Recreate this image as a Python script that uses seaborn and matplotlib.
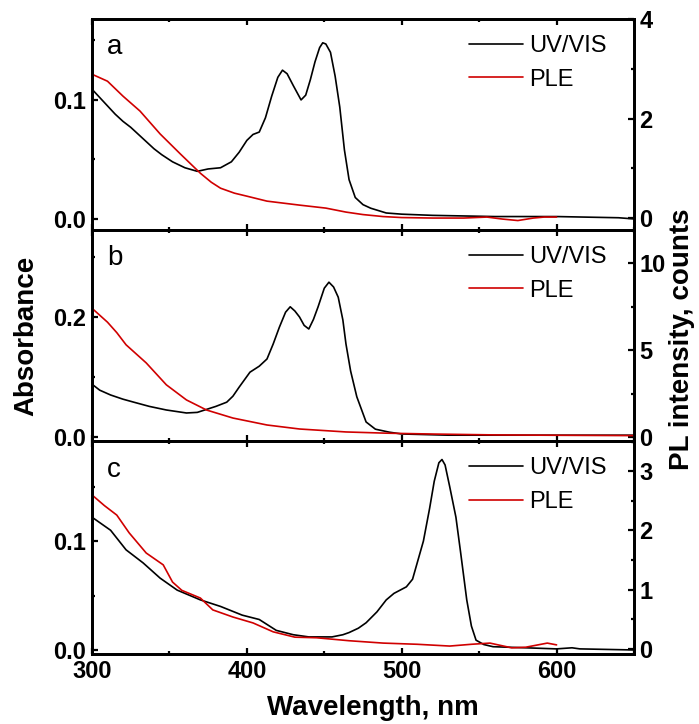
import numpy as np
import pandas as pd
import matplotlib
matplotlib.use("Agg")
import matplotlib.pyplot as plt
import seaborn as sns
from matplotlib.ticker import MultipleLocator

sns.set_theme(style="ticks")
plt.rcParams['font.family'] = ['Liberation Sans', 'DejaVu Sans']
plt.rcParams['text.color'] = 'black'

# ---------------- data ----------------
# Panel a
a_uv_wl = [300, 305, 310, 315, 320, 325, 330, 335, 340, 345, 352, 360, 368, 375, 383, 390, 395, 400,
           404, 408, 412, 416, 420, 423, 426, 430, 435, 438, 441, 444, 447, 449, 451, 454, 457, 460,
           463, 466, 470, 475, 480, 490, 500, 520, 560, 600, 640, 650]
a_uv = [0.109, 0.102, 0.095, 0.088, 0.082, 0.077, 0.071, 0.065, 0.059, 0.054, 0.048, 0.043, 0.040,
        0.042, 0.043, 0.048, 0.056, 0.066, 0.071, 0.073, 0.085, 0.103, 0.119, 0.125, 0.122, 0.112,
        0.100, 0.104, 0.117, 0.132, 0.144, 0.148, 0.147, 0.140, 0.120, 0.094, 0.058, 0.033, 0.018,
        0.012, 0.009, 0.005, 0.004, 0.003, 0.002, 0.002, 0.001, 0.000]
a_ple_wl = [300, 310, 320, 331, 344, 357, 370, 377, 383, 392, 400, 413, 434, 451, 464, 475, 488, 500,
            520, 540, 555, 565, 575, 585, 592, 600]
a_ple = [2.89, 2.75, 2.45, 2.15, 1.69, 1.29, 0.90, 0.72, 0.60, 0.50, 0.44, 0.34, 0.26, 0.20, 0.12,
         0.07, 0.03, 0.01, 0.00, 0.00, 0.02, -0.02, -0.05, 0.00, 0.02, 0.02]

# Panel b
b_uv_wl = [300, 305, 312, 320, 327, 337, 348, 361, 368, 374, 380, 387, 391, 395, 402, 408, 413, 417,
           421, 425, 428, 431, 434, 437, 440, 443, 446, 450, 453, 456, 459, 462, 464, 467, 471, 477,
           483, 492, 500, 530, 600, 650]
b_uv = [0.088, 0.078, 0.070, 0.063, 0.058, 0.051, 0.045, 0.040, 0.041, 0.046, 0.051, 0.058, 0.068,
        0.083, 0.108, 0.118, 0.130, 0.155, 0.183, 0.208, 0.217, 0.210, 0.200, 0.186, 0.180, 0.196,
        0.217, 0.248, 0.258, 0.250, 0.233, 0.195, 0.155, 0.110, 0.067, 0.025, 0.013, 0.008, 0.005,
        0.003, 0.003, 0.003]
b_ple_wl = [300, 310, 316, 322, 335, 348, 361, 374, 391, 413, 434, 464, 490, 520, 560, 600, 650]
b_ple = [7.40, 6.60, 6.00, 5.30, 4.26, 3.00, 2.13, 1.55, 1.09, 0.69, 0.46, 0.29, 0.22, 0.17, 0.12,
         0.10, 0.08]

# Panel c
c_uv_wl = [300, 306, 312, 322, 333, 344, 355, 370, 383, 397, 408, 419, 430, 440, 455, 462, 466, 472,
           477, 484, 490, 495, 499, 503, 507, 511, 514, 518, 521, 524, 526, 528, 531, 535, 538, 542,
           545, 548, 553, 559, 580, 600, 610, 615, 650]
c_uv = [0.122, 0.116, 0.110, 0.092, 0.080, 0.066, 0.055, 0.046, 0.040, 0.032, 0.028, 0.018, 0.014,
        0.012, 0.012, 0.014, 0.016, 0.020, 0.025, 0.035, 0.046, 0.052, 0.055, 0.058, 0.065, 0.085,
        0.100, 0.130, 0.155, 0.172, 0.175, 0.170, 0.150, 0.122, 0.090, 0.046, 0.022, 0.009, 0.005,
        0.003, 0.002, 0.001, 0.002, 0.001, 0.000]
c_ple_wl = [300, 308, 316, 324, 335, 346, 352, 358, 370, 378, 391, 404, 417, 431, 445, 466, 488, 510,
            531, 545, 557, 571, 580, 594, 600]
c_ple = [2.60, 2.42, 2.26, 1.96, 1.62, 1.42, 1.13, 0.99, 0.86, 0.66, 0.54, 0.44, 0.29, 0.20, 0.19,
         0.14, 0.10, 0.08, 0.05, 0.08, 0.10, 0.02, 0.03, 0.10, 0.07]

panel_letters = ["a", "b", "c"]
legend_labels = ["UV/VIS", "PLE"]
x_ticks = [300, 400, 500, 600]

# ---------------- layout ----------------
W, H = 699, 724
fig = plt.figure(figsize=(W / 100, H / 100), dpi=100)
L, R = 92, 634
rows = [(19, 230), (230, 441), (441, 654)]

panels = [
    dict(uv=(a_uv_wl, a_uv), ple=(a_ple_wl, a_ple), yl=(-0.0093, 0.168), yr=(-0.24, 4.0),
         lmaj=0.1, lmin=0.05, rmaj=2, rmin=1),
    dict(uv=(b_uv_wl, b_uv), ple=(b_ple_wl, b_ple), yl=(-0.0067, 0.345), yr=(-0.23, 11.9),
         lmaj=0.2, lmin=0.1, rmaj=5, rmin=2.5),
    dict(uv=(c_uv_wl, c_uv), ple=(c_ple_wl, c_ple), yl=(-0.0037, 0.192), yr=(-0.084, 3.51),
         lmaj=0.1, lmin=0.05, rmaj=1, rmin=0.5),
]

red = "#d00000"
lw_sp = 2.0
for i, ((top, bot), p) in enumerate(zip(rows, panels)):
    ax = fig.add_axes([L / W, 1 - bot / H, (R - L) / W, (bot - top) / H])
    tw = ax.twinx()
    df_uv = pd.DataFrame({"wl": p["uv"][0], "val": p["uv"][1]})
    df_pl = pd.DataFrame({"wl": p["ple"][0], "val": p["ple"][1]})
    sns.lineplot(data=df_uv, x="wl", y="val", ax=ax, color="black", lw=1.2,
                 estimator=None, legend=False)
    sns.lineplot(data=df_pl, x="wl", y="val", ax=tw, color=red, lw=1.2,
                 estimator=None, legend=False)
    ax.set_xlim(300, 650)
    ax.set_ylim(*p["yl"])
    tw.set_ylim(*p["yr"])
    ax.set_xlabel("")
    ax.set_ylabel("")
    tw.set_ylabel("")
    ax.set_xticks(x_ticks)
    ax.xaxis.set_minor_locator(MultipleLocator(50))
    ax.yaxis.set_major_locator(MultipleLocator(p["lmaj"]))
    ax.yaxis.set_minor_locator(MultipleLocator(p["lmin"]))
    tw.yaxis.set_major_locator(MultipleLocator(p["rmaj"]))
    tw.yaxis.set_minor_locator(MultipleLocator(p["rmin"]))
    ax.yaxis.set_major_formatter(matplotlib.ticker.FormatStrFormatter("%.1f"))
    for a in (ax, tw):
        for s in a.spines.values():
            s.set_linewidth(lw_sp)
            s.set_color("black")
    ax.tick_params(axis="both", which="both", direction="in", width=1.6, colors="black",
                   top=True, bottom=True, left=True, right=False, labelsize=17, pad=4)
    ax.tick_params(which="major", length=4.5)
    ax.tick_params(which="minor", length=2.5)
    tw.tick_params(axis="y", which="both", direction="in", width=1.6, colors="black",
                   labelsize=17, pad=4)
    tw.tick_params(which="major", length=4.5)
    tw.tick_params(which="minor", length=2.5)
    for lab in ax.get_xticklabels() + ax.get_yticklabels() + tw.get_yticklabels():
        lab.set_fontweight("bold")
    if i < 2:
        ax.tick_params(labelbottom=False)
    leg = tw.legend(handles=[ax.lines[0], tw.lines[0]], labels=legend_labels, loc="upper right",
                    bbox_to_anchor=(0.95, 0.925), frameon=False, fontsize=17, handlelength=2.3,
                    handletextpad=0.25, labelspacing=0.5, borderaxespad=0, borderpad=0)
    for t in leg.get_texts():
        t.set_color("black")
    ax.text(0.028, 0.865, panel_letters[i], transform=ax.transAxes, fontsize=20,
            ha="left", va="center", color="black")

fig.text(26 / W, 1 - 336 / H, "Absorbance", rotation=90, ha="center", va="center",
         fontsize=20, fontweight="bold", color="black")
fig.text(682 / W, 1 - 339 / H, "PL intensity, counts", rotation=90, ha="center", va="center",
         fontsize=20, fontweight="bold", color="black")
fig.text(373 / W, 1 - 708 / H, "Wavelength, nm", ha="center", va="center",
         fontsize=20, fontweight="bold", color="black")

fig.savefig("out.png", dpi=100)
